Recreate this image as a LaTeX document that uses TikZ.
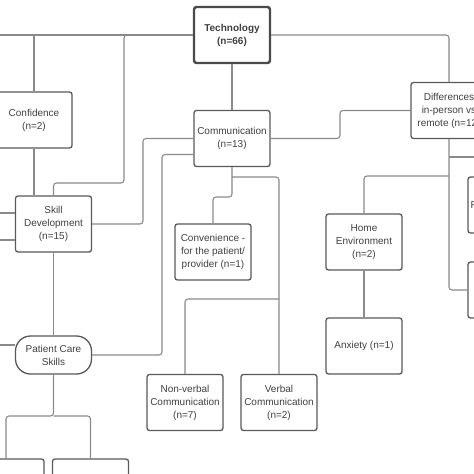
\documentclass[tikz,border=0pt]{standalone}
\usepackage{fontspec}
\setmainfont{Liberation Sans}
\definecolor{boxline}{HTML}{595959}
\definecolor{rootline}{HTML}{4A4A4A}
\definecolor{linegray}{HTML}{8A8A8A}
\definecolor{textgray}{HTML}{404040}
\begin{document}
\begin{tikzpicture}[x=1pt,y=-1pt,
  every node/.style={font=\fontsize{10}{13}\selectfont,text=textgray},
  cat/.style={draw=boxline,line width=1.3pt,rounded corners=2.5pt,minimum width=76pt,minimum height=56pt,align=center,inner sep=0pt,fill=white},
  root/.style={cat,draw=rootline,line width=2.4pt,font=\fontsize{10}{13}\selectfont\bfseries},
  pill/.style={cat,rounded corners=15pt,minimum height=38pt},
  link/.style={draw=linegray,line width=1.1pt,rounded corners=3pt}]
\useasboundingbox[fill=white] (0,0) rectangle (474,474);
\clip (0,0) rectangle (474,474);
\node[root] (tech) at (232,35) {Technology\\(n=66)};
\node[cat] (conf) at (34,120) {Confidence\\(n=2)};
\node[cat] (comm) at (232,138.5) {Communication\\(n=13)};
\node[cat] (diff) at (449,110.5) {Differences\\in-person vs\\remote (n=12)};
\node[cat] (skill) at (53.5,224) {Skill\\Development\\(n=15)};
\node[cat] (conv) at (213,252) {Convenience -\\for the patient/\\provider (n=1)};
\node[cat] (home) at (364,242) {Home\\Environment\\(n=2)};
\node[cat] (anx) at (364,346) {Anxiety (n=1)};
\node[cat] (reimb) at (506,205) {Reimbursement};
\node[cat] (other) at (506,290) {};
\node[pill] (pcs) at (53.5,355) {Patient Care\\Skills};
\node[cat] (nonv) at (185,402.5) {Non-verbal\\Communication\\(n=7)};
\node[cat] (verb) at (279,402.5) {Verbal\\Communication\\(n=2)};
\node[cat] (care1) at (6,487) {};
\node[cat] (care2) at (90.5,487) {};
\coordinate (offtech) at (-10,35);
\coordinate (offdiff) at (490,157);
\coordinate (skjoin) at (124,183);
\coordinate (commjoin) at (232,177);
\coordinate (vj) at (279,299);
\coordinate (diffjoin) at (449,176);
\coordinate (diffout) at (449,157);
\coordinate (pcsjoin) at (53.5,416);
\draw[link] (tech.west) -- (offtech);
\draw[link] (conf.north) -- (conf.north |- tech.west);
\draw[link] (skill.north) |- (skjoin) |- (tech.west);
\draw[link] (conf.south) -- (conf.south |- skill.north);
\draw[link] (skill.east) -- (143,224) |- (comm.west);
\draw[link] ([yshift=-16pt]comm.west) -| (162,300) |- (pcs.east);
\draw[link] (comm.east) -- (340,138.5) |- (diff.west);
\draw[link] (tech.south) -- (comm.north);
\draw[link] (tech.east) -| (diff.north);
\draw[link] (comm.south) -- (232,197) -| (conv.north);
\draw[link] (commjoin) -| (verb.north);
\draw[link] (vj) -| (nonv.north);
\draw[link] (diff.south) |- (other.west);
\draw[link] (diffout) -- (offdiff);
\draw[link] (diffjoin) -| (home.north);
\draw[link] (home.south) -- (anx.north);
\draw[link] ([yshift=11pt]skill.west) -- ++(-30,0);
\draw[link] ([yshift=-16pt]skill.west) -- ++(-30,0);
\draw[link] (skill.south) -- (pcs.north);
\draw[link] ([yshift=10pt]pcs.west) -- ++(-30,0);
\draw[link] (pcs.south) -- (pcsjoin) -| (care1.north);
\draw[link] (pcsjoin) -| (care2.north);
\end{tikzpicture}
\end{document}
